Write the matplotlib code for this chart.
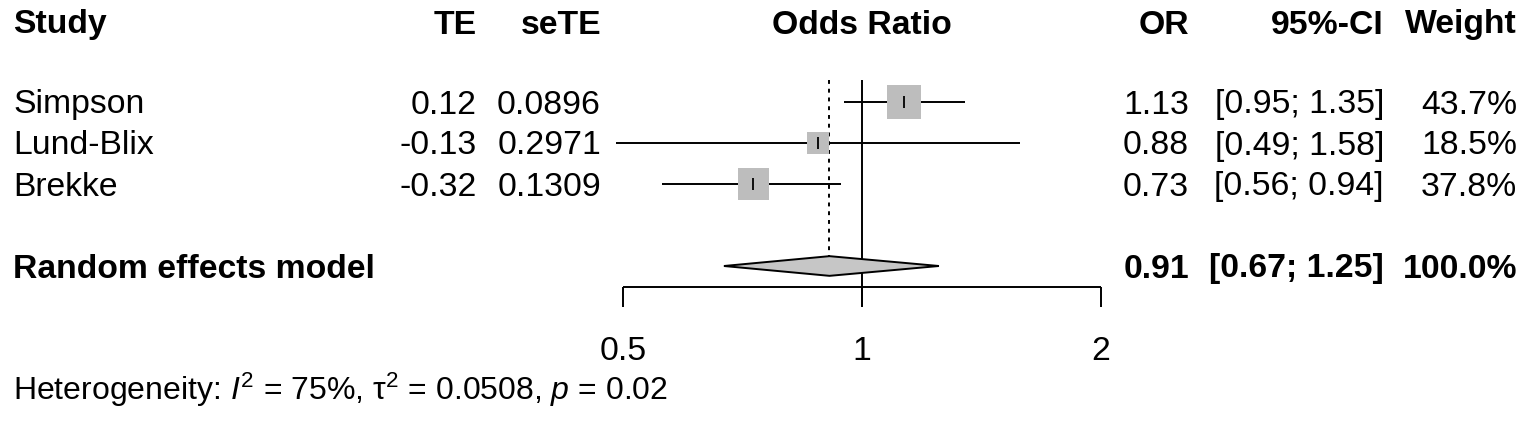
import numpy as np
import matplotlib
matplotlib.use("Agg")
import matplotlib.pyplot as plt
from matplotlib.patches import Polygon

plt.rcParams['font.family'] = ['Liberation Sans', 'DejaVu Sans']
plt.rcParams['mathtext.fontset'] = 'custom'
plt.rcParams['mathtext.rm'] = 'Liberation Sans'
plt.rcParams['mathtext.it'] = 'Liberation Sans:italic'

# study data
studies = ["Simpson", "Lund-Blix", "Brekke"]
te = ["0.12", "-0.13", "-0.32"]
sete = ["0.0896", "0.2971", "0.1309"]
odds = [1.13, 0.88, 0.73]
ci_lo = [0.95, 0.49, 0.56]
ci_hi = [1.35, 1.58, 0.94]
weight = [43.7, 18.5, 37.8]

# random effects summary
re_label = "Random effects model"
re_or = 0.91
re_lo = 0.67
re_hi = 1.25
re_weight = 100.0

ticks = [0.5, 1, 2]
tick_labels = ["0.5", "1", "2"]
het_text = r"Heterogeneity: $I^2$ = 75%, $\mathrm{\tau}^2$ = 0.0508, $p$ = 0.02"

W, H = 1535, 421
fig = plt.figure(figsize=(W / 100, H / 100), dpi=100)

# layout in pixels
row0, row_h = 102, 41
px_one, px_per_dbl = 862, 239
cap = 11.5  # half cap height, to put baselines under row centres

# column right edges (study names are left aligned)
x_study, x_te, x_sete = 13, 477, 601
x_or, x_ci, x_w = 1189, 1384, 1517

def ry(r):
    return row0 + r * row_h

fs = 24.3

# text layer in pixel coords
bg = fig.add_axes([0, 0, 1, 1])
bg.set_xlim(0, W)
bg.set_ylim(H, 0)
bg.axis('off')

# plot layer: log x scale mapped so that 1 -> px_one
ax = fig.add_axes([0, 0, 1, 1])
ax.set_xscale('log', base=2)
ax.set_xlim(2 ** ((0 - px_one) / px_per_dbl), 2 ** ((W - px_one) / px_per_dbl))
ax.set_ylim(ry((H - row0) / row_h), ry(-row0 / row_h))
ax.axis('off')

def txt(x, y, s, ha='right', bold=False, size=fs):
    bg.text(x, y + cap, s, ha=ha, va='baseline', fontsize=size,
            fontweight='bold' if bold else 'normal')

hy = 22
txt(x_study, hy, "Study", ha='left', bold=True)
txt(x_te, hy, "TE", bold=True)
txt(x_sete, hy, "seTE", bold=True)
txt(px_one, hy, "Odds Ratio", ha='center', bold=True)
txt(x_or, hy, "OR", bold=True)
txt(x_ci, hy, "95%-CI", bold=True)
txt(x_w, hy, "Weight", bold=True)

for i in range(len(studies)):
    y = ry(i)
    txt(x_study, y, studies[i], ha='left')
    txt(x_te, y, te[i])
    txt(x_sete, y, sete[i])
    txt(x_or, y, "%.2f" % odds[i])
    txt(x_ci, y, "[%.2f; %.2f]" % (ci_lo[i], ci_hi[i]))
    txt(x_w, y, "%.1f%%" % weight[i])

ys = ry(4)
txt(x_study, ys, re_label, ha='left', bold=True)
txt(x_or, ys, "%.2f" % re_or, bold=True)
txt(x_ci, ys, "[%.2f; %.2f]" % (re_lo, re_hi), bold=True)
txt(x_w, ys, "%.1f%%" % re_weight, bold=True)

# reference lines
top = ry(-0.54)
ax.vlines(1, top, ry(5.0), color='black', lw=1.4)
ax.vlines(re_or, top, ry(3.76), color='black', lw=1.4, linestyles=(0, (2, 2.5)))

# study CIs and squares
rows = [ry(i) for i in range(len(studies))]
ax.hlines(rows, ci_lo, ci_hi, color='black', lw=1.4)
sizes = [600 * w / max(weight) for w in weight]
ax.scatter(odds, rows, s=sizes, marker='s', color='#bdbdbd', edgecolors='none', zorder=3)
ax.scatter(odds, rows, s=80, marker='|', color='black', linewidths=1.3, zorder=4)

# diamond
dh = 0.24 * row_h
diamond = Polygon([(re_lo, ys), (re_or, ys - dh), (re_hi, ys), (re_or, ys + dh)],
                  closed=True, facecolor='#c6c6c6', edgecolor='black', lw=1.4, zorder=3)
ax.add_patch(diamond)

# x axis
axy = ry(4.5)
ax.hlines(axy, ticks[0], ticks[-1], color='black', lw=1.4)
ax.vlines(ticks, axy, ry(5.0), color='black', lw=1.4)
for t, lab in zip(ticks, tick_labels):
    ax.text(t, 360, lab, ha='center', va='baseline', fontsize=fs)

bg.text(x_study, 400, het_text, ha='left', va='baseline', fontsize=23)

fig.savefig("out.png", dpi=100, facecolor='white')
